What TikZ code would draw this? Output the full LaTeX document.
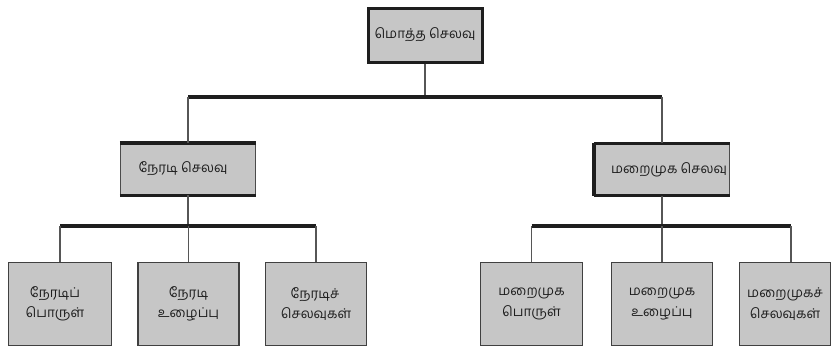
\documentclass[tikz,border=0pt]{standalone}
\usepackage{fontspec}
\newfontfamily\tamil[Script=Tamil]{Hind Madurai}
\usetikzlibrary{calc}
\definecolor{boxfill}{HTML}{C6C6C6}
\definecolor{ink}{HTML}{1E1E1E}
\tikzset{
  topbox/.style={draw=ink, line width=3pt, fill=boxfill, minimum width=114pt, minimum height=54pt, inner sep=0pt, font=\tamil\fontsize{13.5}{15}\selectfont, text=ink},
  midbox/.style={draw=ink!80, line width=1.2pt, fill=boxfill, minimum width=135pt, minimum height=51pt, inner sep=0pt, font=\tamil\fontsize{13.5}{15}\selectfont, text=ink},
  lowbox/.style={draw=ink!85, line width=1.6pt, fill=boxfill, minimum height=83pt, inner sep=0pt, align=center, font=\tamil\fontsize{13.5}{20.5}\selectfont, text=ink},
  edge/.style={line width=3.2pt, draw=ink},
  bus/.style={line width=3.8pt, draw=ink},
  conn/.style={line width=1.4pt, draw=ink!75}
}
\begin{document}
\begin{tikzpicture}[x=1pt,y=-1pt]
\useasboundingbox (0,0) rectangle (833,348);
% nodes
\node[topbox] (top) at (425,35) {மொத்த செலவு};
\node[midbox] (midL) at (188,169) {\hspace*{-10pt}நேரடி செலவு};
\node[midbox] (midR) at (662,169.5) {\hspace*{14pt}மறைமுக செலவு};
\draw[edge] (midL.north west) -- (midL.north east);
\draw[edge] (midL.south west) -- (midL.south east);
\draw[edge] (midR.north west) -- (midR.north east);
\draw[edge] (midR.south west) -- (midR.south east);
\draw[edge] (midR.north west) -- (midR.south west);
\node[lowbox, minimum width=103pt] (b1) at (60,304) {\hspace*{-10pt}நேரடிப்\\\hspace*{-10pt}பொருள்};
\node[lowbox, minimum width=101pt] (b2) at (188.5,304) {நேரடி\\உழைப்பு};
\node[lowbox, minimum width=101pt] (b3) at (316,304) {\hspace*{-2pt}நேரடிச்\\செலவுகள்};
\node[lowbox, minimum width=102pt] (b4) at (531.5,304) {மறைமுக\\பொருள்};
\node[lowbox, minimum width=101pt] (b5) at (662,304) {மறைமுக\\உழைப்பு};
\node[lowbox, minimum width=91pt] (b6) at (785,304) {மறைமுகச்\\செலவுகள்};
% connectors
\coordinate (j1) at (425,97);
\coordinate (j2) at (188,226);
\coordinate (j3) at (662,226);
\coordinate (c6) at (791,226);
\draw[conn] (top.south) -- (j1);
\draw[bus] (midL.north |- j1) -- (midR.north |- j1);
\draw[conn] (midL.north |- j1) -- (midL.north);
\draw[conn] (midR.north |- j1) -- (midR.north);
\draw[conn] (midL.south) -- (j2);
\draw[bus] (b1.north |- j2) -- (b3.north |- j2);
\draw[conn] (b1.north |- j2) -- (b1.north);
\draw[conn] (b2.north |- j2) -- (b2.north);
\draw[conn] (b3.north |- j2) -- (b3.north);
\draw[conn] (midR.south) -- (j3);
\draw[bus] (b4.north |- j3) -- (c6);
\draw[conn] (b4.north |- j3) -- (b4.north);
\draw[conn] (b5.north |- j3) -- (b5.north);
\draw[conn] (c6) -- (c6 |- b6.north);
\end{tikzpicture}
\end{document}
